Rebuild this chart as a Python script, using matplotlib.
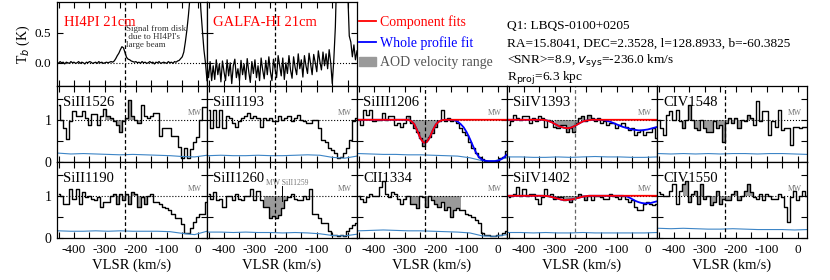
import numpy as np
import matplotlib
matplotlib.use('Agg')
import matplotlib.pyplot as plt
from matplotlib.lines import Line2D
from matplotlib.patches import Patch
from matplotlib.ticker import MultipleLocator

plt.rcParams['font.family'] = ['Liberation Serif', 'DejaVu Serif']
plt.rcParams['mathtext.fontset'] = 'dejavusans'
plt.rcParams['axes.unicode_minus'] = False
plt.rcParams['axes.linewidth'] = 0.9

vsys = -236.0

# HI 21cm spectra, 5 km/s steps from -455 to 30 km/s
hi_vel = np.arange(-455, 31, 5)
hi4pi_tb = [0.01, -0.01, 0.02, 0.0, 0.01, -0.02, 0.01, 0.0, -0.01, 0.02,
            0.0, 0.01, -0.01, 0.0, 0.02, -0.01, 0.01, 0.0, -0.02, 0.01,
            0.0, 0.02, 0.01, -0.01, 0.0, 0.01, -0.01, 0.02, 0.0, 0.01,
            -0.01, 0.0, 0.01, 0.0, 0.01, 0.02, 0.01, 0.03, 0.07, 0.12,
            0.16, 0.22, 0.27, 0.25, 0.17, 0.09, 0.06, 0.05, 0.03, 0.02,
            0.01, 0.02, 0.0, 0.01, -0.01, 0.02, 0.0, 0.01, -0.01, 0.0,
            0.02, 0.0, 0.01, -0.02, 0.01, 0.0, 0.02, -0.01, 0.0, 0.01,
            0.0, -0.01, 0.02, 0.0, 0.01, -0.01, 0.02, 0.01, 0.03, 0.04,
            0.07, 0.1, 0.18, 0.35, 0.55, 0.8, 1.1, 1.6, 2.2, 2.8,
            3.0, 2.6, 1.4, 0.9, 0.55, 0.22, 0.0, -0.3]
galfa_tb = [-0.05, -0.25, 0.02, -0.3, -0.05, -0.28, 0.05, -0.2, -0.02, -0.32,
            0.03, -0.15, -0.3, 0.05, -0.22, 0.0, -0.35, -0.05, 0.06, -0.25,
            -0.1, -0.3, 0.04, -0.2, -0.02, -0.28, 0.07, -0.15, -0.33, 0.02,
            -0.18, 0.05, -0.25, -0.05, -0.3, 0.08, -0.12, -0.27, 0.04, -0.2,
            0.1, -0.15, -0.3, 0.06, -0.1, -0.25, 0.12, -0.05, -0.22, 0.08,
            -0.28, 0.0, -0.18, 0.12, -0.12, -0.26, 0.1, -0.08, -0.2, 0.15,
            -0.1, 0.05, -0.24, 0.12, -0.05, -0.18, 0.16, -0.02, -0.2, 0.14,
            0.0, -0.15, 0.2, 0.02, -0.12, 0.18, -0.05, 0.15, -0.1, 0.22,
            0.0, -0.35, 0.05, 0.6, 1.6, 3.0, 4.0, 4.2, 3.8, 3.2,
            2.2, 1.2, 0.45, 0.35, 0.1, 0.3, 0.05, 0.2]

# normalized absorption spectra, 10 km/s bins from -450 to 30 km/s
vel = np.arange(-450, 31, 10)
err_vel = np.arange(-450, 31, 40)

ions = ['SiII1526', 'SiII1193', 'SiIII1206', 'SiIV1393', 'CIV1548',
        'SiII1190', 'SiII1260', 'CII1334', 'SiIV1402', 'CIV1550']

flux_siii1526 = [1.36, 1.0, 0.8, 0.55, 0.96, 1.2, 1.08, 1.1, 1.2, 1.05,
                 0.88, 1.13, 1.13, 0.88, 1.08, 1.25, 1.08, 1.05, 0.96, 0.88,
                 0.72, 0.96, 1.05, 1.48, 1.08, 1.0, 0.92, 1.36, 1.08, 1.05,
                 1.08, 1.16, 1.16, 0.62, 0.8, 0.8, 0.8, 0.62, 0.62, 0.35,
                 0.1, 0.33, 0.1, 0.3, 0.48, 0.6, 1.0, 1.3, 1.3]
flux_siii1193 = [1.24, 0.8, 1.24, 0.84, 1.24, 0.8, 1.08, 1.04, 0.92, 0.84,
                 0.96, 1.04, 1.08, 1.16, 1.04, 1.08, 1.04, 0.84, 1.04, 1.0,
                 1.04, 0.96, 0.96, 1.08, 1.0, 1.04, 1.08, 0.96, 1.04, 1.12,
                 1.0, 0.96, 0.92, 0.92, 1.0, 1.0, 0.8, 0.52, 0.48, 0.33,
                 0.29, 0.21, 0.09, 0.13, 0.21, 0.33, 0.52, 0.96, 1.04]
flux_siiii1206 = [1.0, 0.88, 1.24, 1.12, 1.24, 0.96, 1.0, 1.0, 1.16, 1.0,
                  1.08, 1.08, 0.88, 0.92, 0.84, 0.92, 1.08, 0.92, 0.8, 0.72,
                  0.56, 0.37, 0.52, 0.6, 0.68, 0.84, 0.96, 1.24, 0.96, 1.04,
                  0.96, 1.0, 0.92, 0.8, 0.72, 0.64, 0.48, 0.33, 0.21, 0.13,
                  0.06, 0.02, 0.02, 0.02, 0.02, 0.02, 0.09, 0.13, 0.25]
flux_siiv1393 = [0.88, 0.96, 1.12, 1.04, 1.0, 1.08, 1.08, 0.92, 1.04, 0.96,
                 1.08, 1.04, 0.84, 1.0, 0.96, 0.84, 0.8, 0.88, 0.88, 0.72,
                 0.8, 0.72, 0.92, 1.04, 1.08, 0.96, 1.12, 1.04, 0.96, 1.04,
                 0.92, 0.96, 0.88, 0.92, 0.92, 0.8, 0.88, 0.92, 0.84, 0.76,
                 0.8, 0.64, 0.72, 0.76, 0.64, 0.72, 0.72, 0.8, 0.56]
flux_civ1548 = [1.0, 0.8, 0.64, 1.12, 1.2, 1.0, 1.24, 0.96, 0.8, 1.0,
                1.36, 1.0, 0.8, 0.76, 1.0, 0.8, 0.72, 0.72, 0.96, 0.8,
                0.88, 0.48, 0.92, 1.04, 0.92, 1.04, 0.8, 1.0, 0.96, 1.12,
                1.04, 0.88, 1.44, 0.96, 1.2, 1.2, 0.64, 0.96, 0.84, 1.24,
                0.76, 0.8, 0.8, 0.4, 0.84, 0.84, 0.8, 0.84, 0.84]
flux_siii1190 = [1.04, 1.0, 0.81, 0.81, 1.16, 0.93, 1.16, 0.81, 1.08, 0.97,
                 1.0, 0.93, 0.89, 0.97, 0.74, 0.85, 0.85, 1.0, 1.04, 0.81,
                 1.04, 0.89, 1.04, 0.81, 1.08, 1.04, 0.74, 0.97, 0.81, 1.0,
                 1.04, 0.85, 0.85, 0.81, 0.74, 0.7, 0.66, 0.58, 0.47, 0.47,
                 0.32, 0.12, 0.12, 0.24, 0.39, 0.5, 0.58, 0.58, 0.85]
flux_siii1260 = [1.04, 0.93, 1.08, 0.89, 0.93, 0.74, 1.0, 1.0, 0.89, 1.04,
                 0.93, 0.89, 1.0, 1.0, 1.16, 0.89, 1.12, 0.89, 0.74, 0.74,
                 0.47, 0.51, 0.47, 0.55, 0.7, 0.89, 0.97, 1.04, 0.93, 0.89,
                 0.89, 1.0, 0.93, 1.16, 0.58, 0.58, 0.47, 0.35, 0.35, 0.16,
                 0.08, 0.08, 0.04, 0.08, 0.04, 0.16, 0.23, 0.31, 0.35]
flux_cii1334 = [1.0, 0.93, 0.85, 0.97, 1.04, 1.0, 1.0, 1.2, 1.35, 1.04,
                0.97, 1.08, 1.04, 0.93, 0.81, 0.93, 1.0, 0.81, 0.81, 0.7,
                1.0, 0.97, 0.74, 1.0, 0.89, 0.81, 0.74, 0.85, 0.66, 0.74,
                0.5, 0.66, 0.7, 0.66, 0.66, 0.58, 0.55, 0.5, 0.43, 0.35,
                0.12, 0.08, 0.08, 0.04, 0.04, 0.08, 0.08, 0.12, 0.16]
flux_siiv1402 = [0.97, 1.0, 1.04, 1.2, 1.0, 1.16, 1.0, 1.04, 1.04, 0.93,
                 0.81, 0.97, 1.16, 1.0, 1.04, 0.93, 0.97, 0.97, 0.89, 0.93,
                 0.85, 0.93, 0.97, 1.04, 1.0, 0.89, 1.0, 0.89, 1.0, 1.0,
                 0.97, 0.93, 0.93, 1.04, 1.0, 0.97, 0.93, 1.0, 0.93, 0.85,
                 0.89, 0.74, 0.66, 0.66, 0.81, 0.85, 0.81, 0.77, 0.81]
flux_civ1550 = [1.1, 1.04, 1.0, 1.0, 1.12, 1.27, 0.81, 1.12, 1.27, 1.35,
                0.85, 1.04, 1.12, 0.81, 1.27, 0.93, 1.0, 0.77, 0.85, 1.12,
                0.81, 0.93, 0.89, 0.89, 1.04, 1.12, 0.89, 1.0, 1.12, 1.27,
                1.08, 0.97, 0.93, 1.04, 0.89, 1.04, 1.0, 0.93, 0.93, 1.04,
                0.97, 0.74, 0.39, 0.97, 1.12, 0.89, 1.0, 1.12, 1.0]

# flux errors, 40 km/s steps
err_siii1526 = [0.21, 0.19, 0.2, 0.19, 0.18, 0.17, 0.18, 0.17, 0.16, 0.15, 0.13, 0.12, 0.16]
err_siii1193 = [0.15, 0.16, 0.15, 0.15, 0.16, 0.15, 0.15, 0.16, 0.17, 0.16, 0.11, 0.09, 0.14]
err_siiii1206 = [0.2, 0.19, 0.18, 0.18, 0.17, 0.17, 0.16, 0.15, 0.14, 0.1, 0.03, 0.03, 0.1]
err_siiv1393 = [0.12, 0.12, 0.11, 0.11, 0.12, 0.11, 0.12, 0.13, 0.12, 0.12, 0.11, 0.11, 0.12]
err_civ1548 = [0.2, 0.19, 0.2, 0.19, 0.2, 0.19, 0.2, 0.2, 0.19, 0.2, 0.2, 0.19, 0.18]
err_siii1190 = [0.17, 0.16, 0.16, 0.17, 0.16, 0.17, 0.16, 0.16, 0.16, 0.15, 0.11, 0.08, 0.16]
err_siii1260 = [0.14, 0.14, 0.13, 0.14, 0.13, 0.13, 0.12, 0.13, 0.12, 0.1, 0.06, 0.05, 0.09]
err_cii1334 = [0.17, 0.18, 0.19, 0.18, 0.17, 0.17, 0.16, 0.15, 0.14, 0.12, 0.05, 0.04, 0.08]
err_siiv1402 = [0.13, 0.13, 0.12, 0.13, 0.12, 0.12, 0.13, 0.12, 0.12, 0.12, 0.12, 0.12, 0.13]
err_civ1550 = [0.23, 0.22, 0.23, 0.22, 0.21, 0.21, 0.22, 0.21, 0.2, 0.2, 0.2, 0.19, 0.2]

# component fits (red) and whole profile fits (blue), same 10 km/s grid
red_siiii1206 = ([1.0] * 17 + [0.97, 0.9, 0.74, 0.56, 0.46, 0.47, 0.58, 0.75, 0.89, 0.96, 0.99]
                 + [1.0] * 21)
blue_siiii1206 = (red_siiii1206[:31] + [0.99, 0.96, 0.9, 0.82, 0.7, 0.55, 0.38, 0.22, 0.11,
                                        0.05, 0.03, 0.02, 0.02, 0.02, 0.03, 0.06, 0.11, 0.18])
red_siiv1393 = ([1.0] * 12 + [0.99, 0.97, 0.94, 0.9, 0.86, 0.83, 0.81, 0.8, 0.81, 0.84,
                              0.88, 0.92, 0.96, 0.98, 0.99] + [1.0] * 22)
blue_siiv1393 = (red_siiv1393[:30] + [1.0, 0.99, 0.97, 0.95, 0.92, 0.89, 0.86, 0.83, 0.81, 0.79,
                                      0.77, 0.76, 0.75, 0.75, 0.76, 0.77, 0.79, 0.81, 0.83])
red_siiv1402 = ([1.0] * 12 + [0.995, 0.99, 0.97, 0.95, 0.93, 0.91, 0.9, 0.9, 0.91, 0.92,
                              0.94, 0.96, 0.98, 0.99, 1.0] + [1.0] * 22)
blue_siiv1402 = (red_siiv1402[:37] + [1.0, 0.99, 0.96, 0.92, 0.88, 0.85, 0.83, 0.82, 0.82,
                                      0.83, 0.85, 0.87])

# AOD velocity ranges (km/s), None where not measured
aod_ranges = [(-300, -180), None, (-295, -180), (-300, -180), (-370, -140),
              (-280, -150), (-270, -185), (-300, -120), (-300, -180), (-370, -140)]

fluxes = [flux_siii1526, flux_siii1193, flux_siiii1206, flux_siiv1393, flux_civ1548,
          flux_siii1190, flux_siii1260, flux_cii1334, flux_siiv1402, flux_civ1550]
errors = [err_siii1526, err_siii1193, err_siiii1206, err_siiv1393, err_civ1548,
          err_siii1190, err_siii1260, err_cii1334, err_siiv1402, err_civ1550]
fits = {'SiIII1206': (red_siiii1206, blue_siiii1206),
        'SiIV1393': (red_siiv1393, blue_siiv1393),
        'SiIV1402': (red_siiv1402, blue_siiv1402)}


def style_axis(ax):
    ax.set_xlim(-455, 30)
    ax.xaxis.set_major_locator(MultipleLocator(100))
    ax.xaxis.set_minor_locator(MultipleLocator(50))
    ax.tick_params(which='both', direction='in', top=True, right=True,
                   labelsize=9.5, width=0.8, pad=4)
    ax.tick_params(which='major', length=4)
    ax.tick_params(which='minor', length=4)


fig = plt.figure(figsize=(8.3, 2.8), dpi=100)
W, H = 830.0, 280.0
x0, cw = 57, 150

# top row: HI 21cm spectra
hi_names = ['HI4PI 21cm', 'GALFA-HI 21cm']
hi_data = [hi4pi_tb, galfa_tb]
for i in range(2):
    ax = fig.add_axes([(x0 + i * cw) / W, 1 - 86 / H, cw / W, 84 / H])
    ax.plot(hi_vel, hi_data[i], color='k', lw=0.9)
    ax.axhline(0, color='k', ls=':', lw=0.8)
    ax.axvline(vsys, color='k', ls='--', lw=0.9, dashes=(3, 2))
    style_axis(ax)
    ax.set_ylim(-0.39, 1.02)
    ax.set_yticks([0.0, 0.5])
    ax.set_xticklabels([])
    ax.text(0.045 if i == 0 else 0.04, 0.76, hi_names[i], color='red', fontsize=10.5,
            transform=ax.transAxes, va='center')
    if i == 0:
        ax.set_yticklabels(['0.0', '0.5'])
        ax.set_ylabel(r'T$_b$ (K)', fontsize=10, labelpad=2)
        ax.text(-233, 0.63, "Signal from disk\n due to HI4PI's\nlarge beam", fontsize=6.5,
                color='#333333', va='top', linespacing=0.95)
    else:
        ax.set_yticklabels([])

# middle and bottom rows: absorption lines
for k, ion in enumerate(ions):
    row, col = divmod(k, 5)
    bottom = 1 - (162 + row * 76) / H
    ax = fig.add_axes([(x0 + col * cw) / W, bottom, cw / W, 76 / H])
    flux = np.array(fluxes[k])
    if aod_ranges[k] is not None:
        lo, hi = aod_ranges[k]
        mask = (vel >= lo) & (vel <= hi)
        ax.fill_between(vel, flux, 1, where=mask, step='mid', color='#9a9a9a', lw=0)
    ax.axhline(1, color='k', ls=':', lw=0.8)
    ax.step(vel, flux, where='mid', color='k', lw=1.0)
    ax.plot(err_vel, errors[k], color='#3d85c6', lw=0.8)
    if ion in fits:
        red_fit, blue_fit = fits[ion]
        ax.plot(vel, blue_fit, color='blue', lw=1.3)
        ax.plot(vel, red_fit, color='red', lw=1.3)
    dash_col = '#666666' if ion.startswith('SiIV') else 'k'
    ax.axvline(vsys, color=dash_col, ls='--', lw=0.9, dashes=(3, 2))
    ax.text(-10, 1.17, 'MW', fontsize=5.5, color='#777777', ha='center', va='center')
    if ion == 'SiII1260':
        ax.plot([-214, -214], [0.87, 1.22], color='k', lw=0.7)
        ax.text(-196, 1.3, 'MW SiII1259', fontsize=5.5, color='#777777', ha='center', va='center')
    ax.text(0.04, 0.78, ion, fontsize=10.5, transform=ax.transAxes, va='center')
    style_axis(ax)
    ax.set_ylim(0, 1.8)
    ax.set_yticks([0, 0.5, 1, 1.5])
    if col == 0:
        ax.set_yticklabels(['0', '', '1', ''], fontsize=10)
    else:
        ax.set_yticklabels([])
    if row == 1:
        ax.set_xlabel('VLSR (km/s)', fontsize=10.5, labelpad=2)
    else:
        ax.set_xticklabels([])

# legend and sightline info
handles = [Line2D([], [], color='red', lw=1.3), Line2D([], [], color='blue', lw=1.3),
           Patch(color='#9a9a9a')]
fig.legend(handles, ['Component fits', 'Whole profile fit', 'AOD velocity range'],
           loc='upper left', bbox_to_anchor=(359 / W, 1 - 15 / H), frameon=False,
           fontsize=10, labelcolor=['red', 'blue', '#555555'], handlelength=1.2,
           handletextpad=0.3, labelspacing=0.5, borderpad=0, borderaxespad=0)

info = ['Q1: LBQS-0100+0205',
        'RA=15.8041, DEC=2.3528, l=128.8933, b=-60.3825',
        r'<SNR>=8.9, $v_{\rm sys}$=-236.0 km/s',
        r'R$_{\rm proj}$=6.3 kpc']
for j, line in enumerate(info):
    fig.text(507 / W, 1 - (26 + j * 17.3) / H, line, fontsize=9.6, va='center')

fig.savefig('out.png', dpi=100)
